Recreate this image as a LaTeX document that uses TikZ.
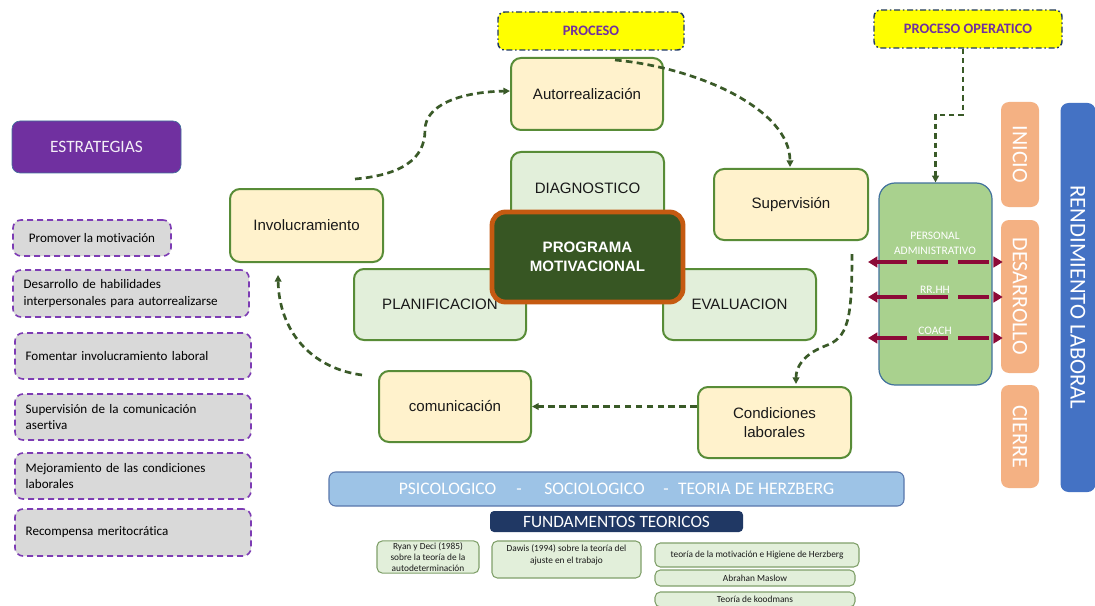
\documentclass[tikz,border=0pt]{standalone}
\usepackage{fontspec}
\setmainfont{Liberation Sans}
\newfontfamily\calib[Ligatures=NoCommon]{Carlito}
\usetikzlibrary{arrows.meta}
\definecolor{cream}{HTML}{FFF2CC}
\definecolor{bgreen}{RGB}{88,140,55}
\definecolor{lgr}{HTML}{E2EFDA}
\definecolor{dgreen}{HTML}{375623}
\definecolor{orng}{HTML}{C55A11}
\definecolor{cgreen}{RGB}{58,90,40}
\definecolor{maroon}{RGB}{140,10,55}
\definecolor{gbox}{HTML}{A9D18E}
\definecolor{gboxb}{RGB}{65,113,156}
\definecolor{peach}{HTML}{F4B183}
\definecolor{blu}{HTML}{4472C4}
\definecolor{purp}{HTML}{7030A0}
\definecolor{spurp}{RGB}{125,60,180}
\definecolor{sgray}{HTML}{D9D9D9}
\definecolor{lblue}{HTML}{9DC3E6}
\definecolor{lblueb}{RGB}{47,85,151}
\definecolor{navy}{HTML}{203864}
\definecolor{smallb}{RGB}{128,160,106}
\definecolor{yel}{HTML}{FFFF00}
\definecolor{ydash}{HTML}{1F3864}
\newcommand\bx[7]{\node[#6, minimum width={(#4-#2)*0.75pt}, minimum height={(#5-#3)*0.75pt}] (#1) at ({(#2+#4)/2},{(#3+#5)/2}) {#7};}
\tikzset{
 box/.style={draw=bgreen, line width=1.5pt, rounded corners=7.5pt, align=center, inner sep=2pt, text=black!90, font=\fontsize{11.3}{14}\selectfont},
 creambox/.style={box, fill=cream},
 lgbox/.style={box, fill=lgr},
 centerbox/.style={draw=orng, fill=dgreen, line width=3.6pt, rounded corners=10pt, align=center, text=white, font=\bfseries\fontsize{11.3}{14}\selectfont},
 strat/.style={draw=spurp, dash pattern=on 4.5pt off 3pt, line width=1.2pt, rounded corners=6pt, fill=sgray, font=\calib\fontsize{9.8}{12.5}\selectfont, align=left, inner xsep=8pt, text=black},
 stratl/.style={strat, text width=161pt},
 yelbox/.style={draw=ydash, fill=yel, line width=1.1pt, dash pattern=on 4.5pt off 2pt on 1.2pt off 2pt, rounded corners=5pt, text=purp, font=\calib\bfseries\fontsize{10.8}{13}\selectfont},
 sidebox/.style={fill=peach, rounded corners=6pt, text=white, font=\calib\fontsize{16.5}{18}\selectfont, rotate=-90},
 smallbox/.style={draw=smallb, fill=lgr, line width=0.8pt, rounded corners=4pt, align=center, font=\calib\fontsize{7}{8.5}\selectfont, inner sep=1pt, text=black!90},
 conn/.style={draw=cgreen, line width=2pt, dash pattern=on 5pt off 3.2pt, -{Triangle[length=5pt,width=5pt]}},
 redarr/.style={draw=maroon, line width=2.6pt, dash pattern=on 23pt off 7.5pt, {Triangle[length=7pt,width=8pt]}-{Triangle[length=7pt,width=8pt]}},
 gtext/.style={text=white, font=\calib\fontsize{8.6}{11}\selectfont, align=center, inner sep=1pt}
}
\begin{document}
\begin{tikzpicture}[x=0.75pt,y=-0.75pt]
\useasboundingbox[fill=white] (0,0) rectangle (1095,606);

% top labels
\bx{proc}{498}{12}{684}{50}{yelbox, text depth=-1pt}{PROCESO}
\bx{po}{874}{10}{1062}{48}{yelbox}{PROCESO OPERATICO}

% cycle boxes
\bx{autor}{511}{58}{663}{130}{creambox}{Autorrealización}
\bx{superv}{714}{169}{868}{240}{creambox}{Supervisión}
\bx{invol}{230}{189}{383}{262}{creambox}{Involucramiento}
\bx{comun}{379}{371}{531}{442}{creambox}{comunicación}
\bx{cond}{698}{387}{851}{458}{creambox}{Condiciones\\laborales}

% program boxes
\bx{diag}{511}{152}{664}{225}{lgbox}{}
\node[font=\fontsize{11.3}{14}\selectfont, text=black!90] (diagt) at (587.5,188) {DIAGNOSTICO};
\bx{plan}{354}{269}{526}{340}{lgbox}{PLANIFICACION}
\bx{eval}{663}{269}{816}{340}{lgbox}{EVALUACION}
\bx{prog}{492}{212}{683}{302}{centerbox}{PROGRAMA\\MOTIVACIONAL}

% right side
\bx{green}{879}{183}{992}{385}{draw=gboxb, fill=gbox, line width=0.9pt, rounded corners=12pt}{}
\node[gtext] (pa) at (935,243) {PERSONAL\\ADMINISTRATIVO};
\node[gtext] (rrhh) at (935,290) {RR.HH};
\node[gtext] (coach) at (935,331) {COACH};

\node[sidebox, minimum width=78.75pt, minimum height=28.5pt] (inicio) at (1020,154.5) {INICIO};
\node[sidebox, minimum width=114.75pt, minimum height=28.5pt] (desa) at (1020,296.5) {DESARROLLO};
\node[sidebox, minimum width=77.25pt, minimum height=28.5pt] (cierre) at (1020,436.5) {CIERRE};
\node[sidebox, fill=blu, minimum width=291.75pt, minimum height=26.25pt, font=\calib\fontsize{17}{19}\selectfont] (rend) at (1078,297.5) {RENDIMIENTO LABORAL};

\coordinate (r1) at (868,262);
\coordinate (r2) at (868,297);
\coordinate (r3) at (868,338);
\draw[redarr] (r1) -- ([xshift=1.5pt]r1 -| desa.south);
\draw[redarr] (r2) -- ([xshift=1.5pt]r2 -| desa.south);
\draw[redarr] (r3) -- ([xshift=1.5pt]r3 -| desa.south);

% strategies
\bx{estr}{12}{121}{181}{173}{fill=purp, draw=gboxb, line width=0.5pt, rounded corners=6pt, text=white!92!purp, font=\calib\fontsize{13}{15}\selectfont}{ESTRATEGIAS}
\bx{s1}{13}{220}{171}{256}{strat, align=center}{Promover la motivación}
\bx{s2}{13}{270}{249}{317}{stratl}{Desarrollo de habilidades\\interpersonales para autorrealizarse}
\bx{s3}{15}{333}{251}{379}{stratl}{Fomentar involucramiento laboral}
\bx{s4}{15}{394}{251}{440}{stratl}{Supervisión de la comunicación\\asertiva}
\bx{s5}{15}{453}{251}{499}{stratl}{Mejoramiento de las condiciones\\laborales}
\bx{s6}{15}{509}{251}{556}{stratl}{Recompensa meritocrática}

% foundations
\bx{psico}{329}{472}{904}{506}{fill=lblue, draw=lblueb!80, line width=0.8pt, rounded corners=5pt, text=white, font=\calib\fontsize{13.2}{15}\selectfont}{PSICOLOGICO\hspace{15pt}-\hspace{17pt}SOCIOLOGICO\hspace{14pt}-\hspace{7pt}TEORIA DE HERZBERG}
\bx{fund}{490}{511}{743}{532}{fill=navy, rounded corners=3pt, text=white, font=\calib\fontsize{13}{14}\selectfont, inner sep=0pt}{FUNDAMENTOS TEORICOS}
\bx{ryan}{377}{541}{479}{573}{smallbox}{Ryan y Deci (1985)\\sobre la teoría de la\\autodeterminación}
\bx{dawis}{492}{541}{641}{578}{smallbox, text depth=8pt}{Dawis (1994) sobre la teoría del\\ajuste en el trabajo}
\bx{herz}{655}{543}{859}{567}{smallbox}{teoría de la motivación e Higiene de Herzberg}
\bx{maslow}{655}{570}{855}{586}{smallbox}{Abrahan Maslow}
\bx{kood}{655}{592}{855}{607}{smallbox}{Teoría de koodmans}

% connectors
\coordinate (c1s) at (355,179);
\draw[conn] (c1s) .. controls (400,175) and (425,160) .. (425,130) .. controls (425,105) and (460,92) .. (autor.west |- 0,91);
\coordinate (c2s) at (615,60);
\draw[conn] (c2s) .. controls (700,68) and (790,110) .. (790,167);
\coordinate (c3s) at (852,254);
\draw[conn] (c3s) .. controls (852,320) and (848,338) .. (825,346) .. controls (802,355) and (796,368) .. (796,384);
\draw[conn] (cond.west |- comun.east) -- (comun.east);
\coordinate (c5s) at (362,375);
\draw[conn] (c5s) .. controls (310,368) and (279,330) .. (278,275);
\draw[conn, dash pattern=on 4pt off 3pt, line width=1.6pt] ([xshift=-3.75pt]po.south) -- ++(0,66) -| (green.north);
\end{tikzpicture}
\end{document}
